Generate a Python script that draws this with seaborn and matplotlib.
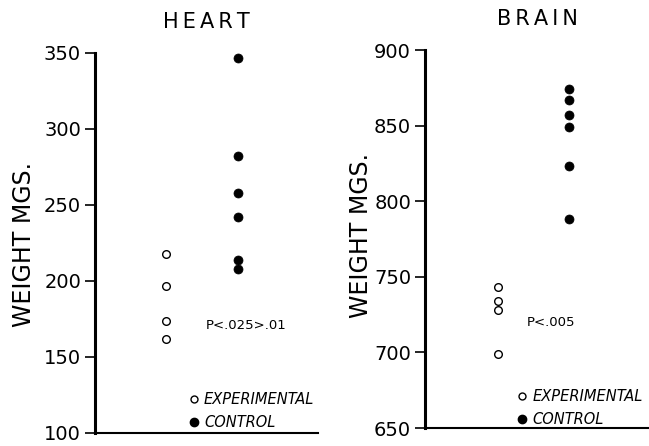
import matplotlib
matplotlib.use("Agg")
import matplotlib.pyplot as plt
import seaborn as sns
import pandas as pd
from matplotlib.lines import Line2D

groups = ["Experimental", "Control"]

heart_exp = [218, 197, 174, 162]
heart_ctrl = [347, 282, 258, 242, 214, 208]
heart_ticks = [100, 150, 200, 250, 300, 350]
heart_note = "P<.025>.01"

brain_exp = [743, 734, 728, 699]
brain_ctrl = [874, 867, 857, 849, 823, 788]
brain_ticks = [650, 700, 750, 800, 850, 900]
brain_note = "P<.005"

sns.set_theme(style="white")
plt.rcParams["font.family"] = ["DejaVu Sans"]
for k in ["text.color", "axes.labelcolor", "xtick.color", "ytick.color"]:
    plt.rcParams[k] = "black"

W, H = 649, 446
fig = plt.figure(figsize=(W / 100, H / 100), dpi=100)

def px_axes(l, r, top, bottom):
    return fig.add_axes([l / W, (H - bottom) / H, (r - l) / W, (bottom - top) / H])

ax1 = px_axes(95, 318, 53, 433)
ax2 = px_axes(425, 649, 50, 428)


def panel(ax, exp, ctrl, ticks, title, note, note_xy, xlim, leg_anchor, title_y,
          label_xy):
    df_e = pd.DataFrame({"group": ["Experimental"] * len(exp), "weight": exp})
    df_c = pd.DataFrame({"group": ["Control"] * len(ctrl), "weight": ctrl})
    sns.stripplot(data=df_e, x="group", y="weight", order=groups, jitter=False,
                  color="white", edgecolor="black", linewidth=1.0, size=5.5, ax=ax,
                  zorder=3)
    sns.stripplot(data=df_c, x="group", y="weight", order=groups, jitter=False,
                  color="black", edgecolor="black", linewidth=0.5, size=6.5, ax=ax,
                  zorder=3)
    ax.set_xlim(*xlim)
    ax.set_ylim(ticks[0], ticks[-1])
    ax.set_yticks(ticks)
    ax.set_yticklabels([str(t) for t in ticks], fontsize=14)
    ax.set_xticks([])
    ax.set_xlabel("")
    ax.set_ylabel("WEIGHT MGS.", fontsize=17)
    ax.yaxis.set_label_coords(*label_xy)
    for s in ["top", "right"]:
        ax.spines[s].set_visible(False)
    ax.spines["left"].set_linewidth(2.2)
    ax.spines["bottom"].set_linewidth(1.5)
    ax.spines["left"].set_color("black")
    ax.spines["bottom"].set_color("black")
    ax.tick_params(axis="y", left=True, length=7, width=1.2, pad=3, colors="black")
    ax.set_facecolor("none")
    ax.text(note_xy[0], note_xy[1], note, fontsize=9.5, va="center", ha="left")
    ax.text(0.5, title_y, "\u2009".join(title), transform=ax.transAxes, fontsize=15,
            ha="center", va="baseline")
    handles = [
        Line2D([], [], marker="o", linestyle="none", markerfacecolor="white",
               markeredgecolor="black", markersize=5, markeredgewidth=1),
        Line2D([], [], marker="o", linestyle="none", markerfacecolor="black",
               markeredgecolor="black", markersize=6),
    ]
    ax.legend(handles, ["EXPERIMENTAL", "CONTROL"], loc="lower left",
              bbox_to_anchor=leg_anchor, frameon=False, handlelength=0.7,
              handletextpad=0.35, labelspacing=0.55, borderpad=0, borderaxespad=0,
              prop={"style": "italic", "size": 10.5})


panel(ax1, heart_exp, heart_ctrl, heart_ticks, "HEART", heart_note, (0.55, 171),
      (-0.986, 2.11), (0.42, 0.008), 1.065, (-0.265, 0.495))
panel(ax2, brain_exp, brain_ctrl, brain_ticks, "BRAIN", brain_note, (0.41, 720),
      (-1.03, 2.13), (0.41, 0.002), 1.065, (-0.232, 0.508))

fig.savefig("out.png", dpi=100)
